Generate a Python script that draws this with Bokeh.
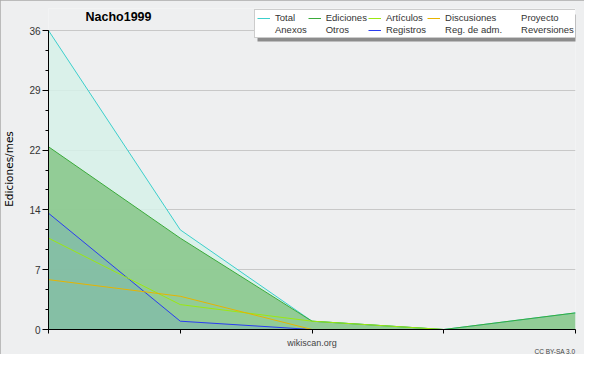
from bokeh.plotting import figure
from bokeh.models import (Range1d, FixedTicker, CustomJSTickFormatter, Legend, LegendItem,
                          BoxAnnotation, ColumnDataSource, Title, Label)
from bokeh.embed import file_html
from bokeh.resources import INLINE

# ---- data ----
months = [0, 1, 2, 3, 4]
total = [36, 12, 1, 0, 2]
ediciones = [22, 11, 1, 0, 2]
articulos = [11, 3, 1, 0, 0]
discusiones = [6, 4, 0, 0, 0]
registros = [14, 1, 0, 0, 0]
empty_x = []
empty_y = []
y_max = 36
legend_labels = ["Total", "Ediciones", "Artículos", "Discusiones", "Proyecto",
                 "Anexos", "Otros", "Registros", "Reg. de adm.", "Reversiones"]

BG = "#eeeff0"
W, H = 584, 354
ML, MR, MT, MB = 45, 9, 8, 25
FH = H - MT - MB          # frame height (frame extends up to hold title & legend)
TOP36 = 30                # pixel row where the top tick sits
y_end = y_max * FH / (H - MB - TOP36)

p = figure(width=W, height=H, output_backend="svg", toolbar_location=None,
           x_range=Range1d(0, 4), y_range=Range1d(0, y_end),
           min_border_left=ML, min_border_right=MR, min_border_top=MT, min_border_bottom=MB,
           title_location=None)
p.background_fill_color = BG
p.border_fill_color = BG
p.outline_line_color = None
p.styles = {"outline": "1px solid #aaaaaa", "outline-offset": "-1px"}

src = ColumnDataSource(dict(x=months, total=total, ed=ediciones, art=articulos,
                            dis=discusiones, reg=registros, zero=[0] * len(months)))

# fills
p.varea(x="x", y1="zero", y2="total", source=src, fill_color="#d6f1e9", fill_alpha=0.85)
p.varea(x="x", y1="zero", y2="ed", source=src, fill_color="#85c587", fill_alpha=0.85)
p.varea(x="x", y1="zero", y2="reg", source=src, fill_color="#568be1", fill_alpha=0.2)

# lines
r_total = p.line("x", "total", source=src, line_color="#3ccfcc", line_width=1)
r_ed = p.line("x", "ed", source=src, line_color="#3aaa3a", line_width=1)
r_reg = p.line("x", "reg", source=src, line_color="#2a3cf0", line_width=1)
r_art = p.line("x", "art", source=src, line_color="#9be812", line_width=1)
r_dis = p.line("x", "dis", source=src, line_color="#e6b400", line_width=1)

# legend-only series (no data in this period)
r_pro = p.line(empty_x, empty_y, line_color="#666666")
r_anx = p.line(empty_x, empty_y, line_color="#ff8040")
r_otr = p.line(empty_x, empty_y, line_color="#8040cc")
r_rad = p.line(empty_x, empty_y, line_color="#cc44dd")
r_rev = p.line(empty_x, empty_y, line_color="#ee4444")

renderers = [r_total, r_ed, r_art, r_dis, r_pro, r_anx, r_otr, r_reg, r_rad, r_rev]

# axes
p.xaxis.ticker = FixedTicker(ticks=months)
p.xaxis.formatter = CustomJSTickFormatter(code="return ''")
p.xaxis.major_label_standoff = 0
p.xaxis.major_tick_out = 4
p.xaxis.major_tick_in = 0
p.xaxis.minor_tick_line_color = None
p.xaxis.axis_line_color = "black"
p.xaxis.major_tick_line_color = "black"
p.xaxis.axis_label = "wikiscan.org"
p.xaxis.axis_label_standoff = 4
p.xaxis.axis_label_text_font = "Liberation Sans"
p.xaxis.axis_label_text_font_size = "9px"
p.xaxis.axis_label_text_font_style = "normal"
p.xaxis.axis_label_text_color = "#444444"

yt = [y_max * i / 5 for i in range(6)]
ym = [y_max * i / 15 for i in range(16)]
p.yaxis.bounds = (0, y_max)
p.yaxis.ticker = FixedTicker(ticks=yt, minor_ticks=ym)
p.yaxis.formatter = CustomJSTickFormatter(code="return Math.round(tick).toString()")
p.yaxis.major_tick_out = 6
p.yaxis.major_tick_in = 0
p.yaxis.minor_tick_out = 3
p.yaxis.minor_tick_in = 0
p.yaxis.major_label_standoff = 2
p.yaxis.major_label_text_font = "Liberation Sans"
p.yaxis.major_label_text_font_size = "10px"
p.yaxis.major_label_text_color = "#333333"
p.yaxis.axis_line_color = "black"
p.yaxis.major_tick_line_color = "black"
p.yaxis.minor_tick_line_color = "black"
p.yaxis.axis_label = "Ediciones/mes"
p.yaxis.axis_label_standoff = 11
p.yaxis.axis_label_text_font = "DejaVu Sans"
p.yaxis.axis_label_text_font_size = "10.5px"
p.yaxis.axis_label_text_font_style = "normal"
p.yaxis.axis_label_text_color = "black"

p.xgrid.grid_line_color = None
p.ygrid.grid_line_color = "#c8c8c8"

p.add_layout(Title(text="CC BY-SA 3.0", align="right", text_font="Liberation Sans",
                   text_font_size="6.5px", text_font_style="normal", text_color="#444444",
                   standoff=-9), "below")

# title inside the (tall) frame
p.add_layout(Label(x=70, y=FH - 8, x_units="screen", y_units="screen",
                   text="Nacho1999", text_font="Liberation Sans", text_font_style="bold",
                   text_font_size="12.5px", text_align="center", text_baseline="middle",
                   text_color="black"))

# legend + shadow
LX, LW = 206, 327
LB, LH = FH - 30, 27
p.add_layout(BoxAnnotation(left=LX + 3, right=LX + LW + 3, bottom=LB - 3, top=LB + LH - 3,
                           left_units="screen", right_units="screen",
                           bottom_units="screen", top_units="screen",
                           fill_color="#8c8c8c", fill_alpha=1, line_color=None))

legend = Legend(items=[LegendItem(label=l, renderers=[r]) for l, r in zip(legend_labels, renderers)],
                orientation="horizontal", nrows=2, location=(LX, LB),
                label_text_font="Liberation Sans", label_text_font_size="9.5px",
                label_text_color="#333333", glyph_width=13, glyph_height=10,
                label_height=10, label_standoff=5, padding=2, spacing=1, margin=0,
                border_line_color="#999999", background_fill_color="white",
                background_fill_alpha=1)
p.add_layout(legend)

open("out.html", "w").write(file_html(p, INLINE))
